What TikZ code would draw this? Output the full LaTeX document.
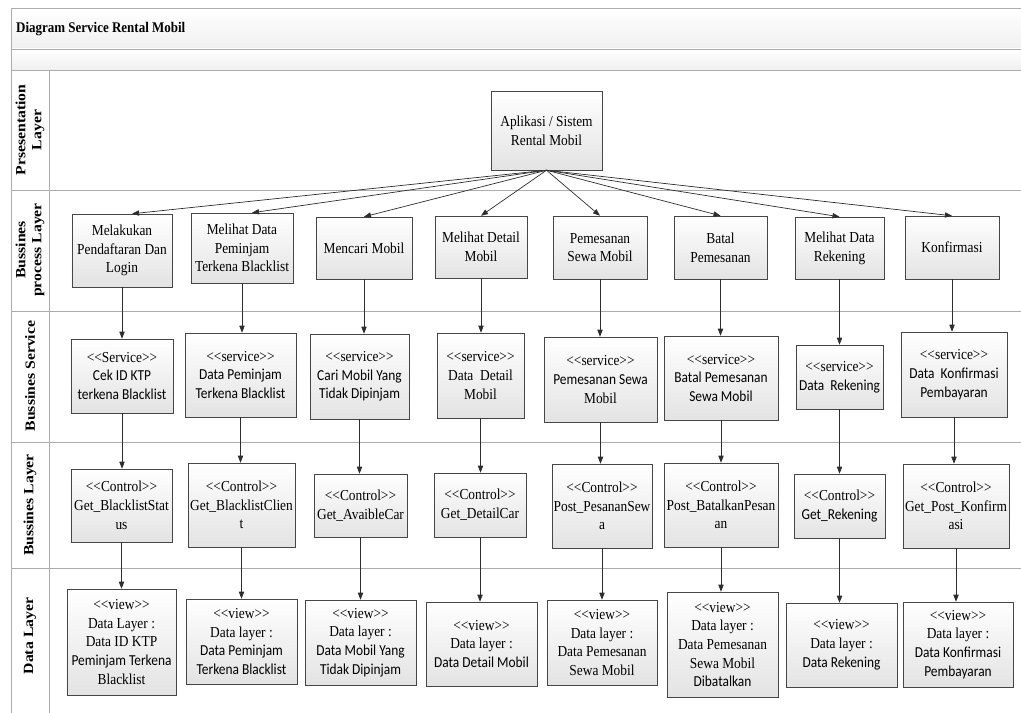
\documentclass[tikz,border=0pt]{standalone}
\usepackage{fontspec}
\setmainfont{Liberation Serif}[FakeStretch=0.88]
\newfontfamily\calib{Carlito}[FakeStretch=0.88]
\newfontfamily\lanefont{Liberation Serif}[FakeStretch=1.12]
\usepackage{tikz}
\usetikzlibrary{arrows.meta,positioning,shadows}

\begin{document}
\begin{tikzpicture}[
      x=0.03cm, y=-0.03cm,
      box/.style={rectangle, draw=gray!55!black, top color=white, bottom color=gray!22,
        align=center, inner sep=1pt, font=\fontsize{13}{16}\selectfont,
        drop shadow={shadow xshift=1pt, shadow yshift=-1pt, opacity=0.25}},
      lane/.style={draw=gray!65, line width=0.8pt},
      lanelabel/.style={rotate=90, align=center, font=\lanefont\fontsize{12}{13.5}\selectfont\bfseries},
      flow/.style={draw=gray!35!black, line width=0.6pt, -{Triangle[length=6pt,width=4.5pt]}}
    ]
    \useasboundingbox (0,0) rectangle (1021,713);
    % Header bands
    \shade[top color=white, bottom color=gray!12] (11,8) rectangle (1021,49);
    \shade[top color=white, bottom color=gray!12] (11,49) rectangle (1021,70);
    \node[anchor=west, font=\fontsize{12.6}{14}\selectfont\bfseries] (title) at (12,29) {Diagram Service Rental Mobil};
    % Swimlane frame
    \draw[lane] (1021,8) -- (11,8) -- (11,713);
    \draw[lane] (49,70) -- (49,713);
    \foreach \yy in {49,70,190,311,442,568}
      \draw[lane] (11,\yy) -- (1021,\yy);
    \node[lanelabel] (l1) at (30,130) {Prsesentation\\Layer};
    \node[lanelabel] (l2) at (30,250) {Bussines\\process Layer};
    \node[lanelabel] (l3) at (30,376) {Bussines Service};
    \node[lanelabel] (l4) at (30,505) {Bussines Layer};
    \node[lanelabel] (l5) at (30,636) {Data Layer};
    % Presentation layer
    \node[box, minimum width=3.33cm, minimum height=2.37cm] (app) at (546.5,130.5) {Aplikasi / Sistem\\Rental Mobil};
    % Bussines process layer
    \node[box, minimum width=3.0cm, minimum height=2.19cm] (p1) at (122,250.5) {Melakukan\\Pendaftaran Dan\\Login};
    \node[box, minimum width=3.06cm, minimum height=2.1cm] (p2) at (242,248) {Melihat Data\\Peminjam\\Terkena Blacklist};
    \node[box, minimum width=2.88cm, minimum height=1.86cm] (p3) at (364,248) {Mencari Mobil};
    \node[box, minimum width=2.76cm, minimum height=1.86cm] (p4) at (481,247) {Melihat Detail\\Mobil};
    \node[box, minimum width=2.82cm, minimum height=1.89cm] (p5) at (600,247.5) {Pemesanan\\Sewa Mobil};
    \node[box, minimum width=2.79cm, minimum height=1.89cm] (p6) at (720.5,247.5) {Batal\\Pemesanan};
    \node[box, minimum width=2.67cm, minimum height=1.86cm] (p7) at (839.5,248) {Melihat Data\\Rekening};
    \node[box, minimum width=2.82cm, minimum height=1.89cm] (p8) at (952,247.5) {Konfirmasi};
    % Bussines service
    \node[box, minimum width=3.06cm, minimum height=2.22cm] (s1) at (122,376) {<{}<Service>{}>\\{\calib Cek ID KTP}\\{\calib terkena Blacklist}};
    \node[box, minimum width=3.33cm, minimum height=2.52cm] (s2) at (240.5,375) {<{}<service>{}>\\{\calib Data Peminjam}\\{\calib Terkena Blacklist}};
    \node[box, minimum width=2.97cm, minimum height=2.55cm] (s3) at (359.5,376.5) {<{}<service>{}>\\{\calib Cari Mobil Yang}\\{\calib Tidak Dipinjam}};
    \node[box, minimum width=2.61cm, minimum height=2.55cm] (s4) at (480.5,375.5) {<{}<service>{}>\\Data~ Detail\\Mobil};
    \node[box, minimum width=3.39cm, minimum height=2.55cm] (s5) at (600.5,379.5) {<{}<service>{}>\\{\calib Pemesanan Sewa}\\Mobil};
    \node[box, minimum width=3.42cm, minimum height=2.52cm] (s6) at (721,378) {<{}<service>{}>\\{\calib Batal Pemesanan}\\{\calib Sewa Mobil}};
    \node[box, minimum width=2.61cm, minimum height=1.92cm] (s7) at (839.5,377) {<{}<service>{}>\\{\calib Data~ Rekening}};
    \node[box, minimum width=3.18cm, minimum height=2.55cm] (s8) at (954,374.5) {<{}<service>{}>\\{\calib Data~ Konfirmasi}\\{\calib Pembayaran}};
    % Bussines layer
    \node[box, minimum width=3.03cm, minimum height=2.19cm] (c1) at (121.5,505.5) {<{}<Control>{}>\\Get\_BlacklistStat\\us};
    \node[box, minimum width=3.21cm, minimum height=2.52cm] (c2) at (241.5,505) {<{}<Control>{}>\\Get\_BlacklistClien\\t};
    \node[box, minimum width=2.79cm, minimum height=1.89cm] (c3) at (360.5,505.5) {<{}<Control>{}>\\Get\_AvaibleCar};
    \node[box, minimum width=2.76cm, minimum height=1.92cm] (c4) at (480,505) {<{}<Control>{}>\\Get\_DetailCar};
    \node[box, minimum width=3.0cm, minimum height=2.52cm] (c5) at (602,506) {<{}<Control>{}>\\Post\_PesananSew\\a};
    \node[box, minimum width=3.42cm, minimum height=2.52cm] (c6) at (721,505) {<{}<Control>{}>\\Post\_BatalkanPesan\\an};
    \node[box, minimum width=2.73cm, minimum height=1.92cm] (c7) at (839.5,506) {<{}<Control>{}>\\{\calib Get\_Rekening}};
    \node[box, minimum width=3.18cm, minimum height=2.52cm] (c8) at (956,506) {<{}<Control>{}>\\Get\_Post\_Konfirm\\asi};
    % Data layer
    \node[box, minimum width=3.27cm, minimum height=3.18cm] (d1) at (121.5,642) {<{}<view>{}>\\Data Layer :\\Data ID KTP\\{\calib Peminjam Terkena}\\Blacklist};
    \node[box, minimum width=3.33cm, minimum height=2.55cm] (d2) at (241.5,641.5) {<{}<view>{}>\\Data layer :\\{\calib Data Peminjam}\\{\calib Terkena Blacklist}};
    \node[box, minimum width=3.33cm, minimum height=2.55cm] (d3) at (360.5,642.5) {<{}<view>{}>\\Data layer :\\{\calib Data Mobil Yang}\\{\calib Tidak Dipinjam}};
    \node[box, minimum width=3.33cm, minimum height=2.52cm] (d4) at (481.5,644) {<{}<view>{}>\\Data layer :\\{\calib Data Detail Mobil}};
    \node[box, minimum width=3.3cm, minimum height=2.55cm] (d5) at (602,642.5) {<{}<view>{}>\\Data layer :\\Data Pemesanan\\Sewa Mobil};
    \node[box, minimum width=3.33cm, minimum height=3.15cm] (d6) at (722.5,644.5) {<{}<view>{}>\\Data layer :\\Data Pemesanan\\Sewa Mobil\\{\calib Dibatalkan}};
    \node[box, minimum width=3.33cm, minimum height=2.52cm] (d7) at (841.5,645) {<{}<view>{}>\\Data layer :\\{\calib Data Rekening}};
    \node[box, minimum width=3.3cm, minimum height=2.55cm] (d8) at (958,644.5) {<{}<view>{}>\\Data layer :\\{\calib Data Konfirmasi}\\{\calib Pembayaran}};
    % Application to each process
    \draw[flow] (app.south) -- ([xshift=0.3cm]p1.north);
    \draw[flow] (app.south) -- ([xshift=0.3cm]p2.north);
    \draw[flow] (app.south) -- (p3.north);
    \draw[flow] (app.south) -- (p4.north);
    \draw[flow] (app.south) -- (p5.north);
    \draw[flow] (app.south) -- (p6.north);
    \draw[flow] (app.south) -- (p7.north);
    \draw[flow] (app.south) -- (p8.north);
    % Process to service
    \draw[flow] (p1.south) -- (p1.south |- s1.north);
    \draw[flow] (p2.south) -- (p2.south |- s2.north);
    \draw[flow] (p3.south) -- (p3.south |- s3.north);
    \draw[flow] (p4.south) -- (p4.south |- s4.north);
    \draw[flow] (p5.south) -- (p5.south |- s5.north);
    \draw[flow] (p6.south) -- (p6.south |- s6.north);
    \draw[flow] (p7.south) -- (p7.south |- s7.north);
    \draw[flow] (p8.south) -- (p8.south |- s8.north);
    % Service to control
    \draw[flow] (s1.south) -- (s1.south |- c1.north);
    \draw[flow] (s2.south) -- (s2.south |- c2.north);
    \draw[flow] (s3.south) -- (s3.south |- c3.north);
    \draw[flow] (s4.south) -- (s4.south |- c4.north);
    \draw[flow] (s5.south) -- (s5.south |- c5.north);
    \draw[flow] (s6.south) -- (s6.south |- c6.north);
    \draw[flow] (s7.south) -- (s7.south |- c7.north);
    \draw[flow] (s8.south) -- (s8.south |- c8.north);
    % Control to view
    \draw[flow] (c1.south) -- (c1.south |- d1.north);
    \draw[flow] (c2.south) -- (c2.south |- d2.north);
    \draw[flow] (c3.south) -- (c3.south |- d3.north);
    \draw[flow] (c4.south) -- (c4.south |- d4.north);
    \draw[flow] (c5.south) -- (c5.south |- d5.north);
    \draw[flow] (c6.south) -- (c6.south |- d6.north);
    \draw[flow] (c7.south) -- (c7.south |- d7.north);
    \draw[flow] (c8.south) -- (c8.south |- d8.north);
  \end{tikzpicture}
\end{document}
